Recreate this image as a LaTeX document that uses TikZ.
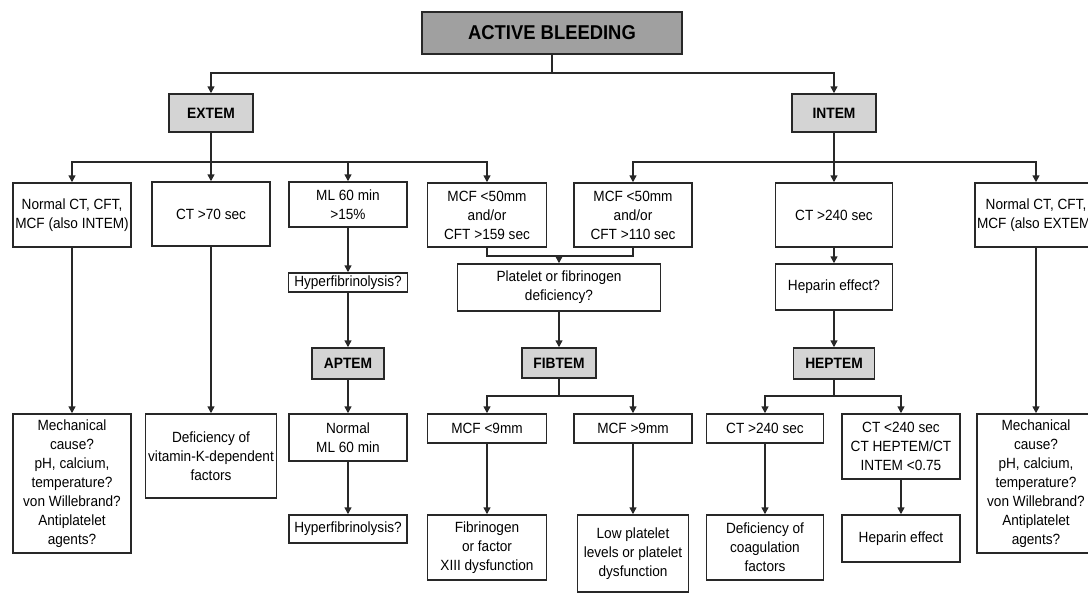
\documentclass[tikz,border=0pt]{standalone}
\usepackage{fontspec}
\setmainfont{Liberation Sans}[FakeStretch=0.92]
\definecolor{linegray}{RGB}{40, 40, 40}
\definecolor{topgray}{RGB}{160, 160, 160}
\definecolor{headgray}{RGB}{212, 212, 212}
\usetikzlibrary{arrows.meta}

\begin{document}
\begin{tikzpicture}[x=0.5pt, y=-0.5pt,
  box/.style={draw=linegray, line width=0.75pt, fill=white, align=center, inner sep=1pt, font=\fontsize{7.4}{9.5}\selectfont},
  headbox/.style={box, fill=headgray, font=\fontsize{7.5}{9}\selectfont\bfseries},
  arr/.style={draw=linegray, line width=0.75pt, -{Triangle[length=3.5pt,width=3.5pt]}},
  link/.style={draw=linegray, line width=0.75pt}]
  \useasboundingbox (0,0) rectangle (1088,594);

  % Top and the two tests
  \node[box, fill=topgray, minimum width=130pt, minimum height=21pt, font=\fontsize{10}{12}\selectfont\bfseries] (bleed) at (552,33) {ACTIVE BLEEDING};
  \node[headbox, minimum width=42pt, minimum height=19pt] (extem) at (211,113) {EXTEM};
  \node[headbox, minimum width=42pt, minimum height=19pt] (intem) at (834,113) {INTEM};

  % First row of results
  \node[box, minimum width=59pt, minimum height=32pt] (normExt) at (72,215) {Normal CT, CFT,\\MCF (also INTEM)};
  \node[box, minimum width=59pt, minimum height=32pt] (ctSeventy) at (211,214) {CT >70 sec};
  \node[box, minimum width=59pt, minimum height=22.5pt] (mlHigh) at (348,204.5) {ML 60 min\\>15\%};
  \node[box, minimum width=59.5pt, minimum height=32pt] (mcfExt) at (487,215) {MCF <50mm\\and/or\\CFT >159 sec};
  \node[box, minimum width=59pt, minimum height=32pt] (mcfInt) at (633,215) {MCF <50mm\\and/or\\CFT >110 sec};
  \node[box, minimum width=58.5pt, minimum height=32pt] (ctInt) at (834,215) {CT >240 sec};
  \node[box, minimum width=59pt, minimum height=32pt] (normInt) at (1036,215) {Normal CT, CFT,\\MCF (also EXTEM)};

  % Questions and follow-up tests
  \node[box, minimum width=59.5pt, minimum height=9.5pt] (hyperA) at (348,282.5) {Hyperfibrinolysis?};
  \node[box, minimum width=101.5pt, minimum height=23.5pt] (platQ) at (559,287.5) {Platelet or fibrinogen\\deficiency?};
  \node[box, minimum width=58.5pt, minimum height=23pt] (hepQ) at (834,287) {Heparin effect?};
  \node[headbox, minimum width=36pt, minimum height=15.5pt] (aptem) at (348,363.5) {APTEM};
  \node[headbox, minimum width=37pt, minimum height=15pt] (fibtem) at (559,363) {FIBTEM};
  \node[headbox, minimum width=40.5pt, minimum height=15.5pt] (heptem) at (834,363.5) {HEPTEM};

  % Lower row
  \node[box, minimum width=59pt, minimum height=69.5pt] (mechA) at (72,483.5) {Mechanical\\cause?\\pH, calcium,\\temperature?\\von Willebrand?\\Antiplatelet\\agents?};
  \node[box, minimum width=65.5pt, minimum height=42pt] (vitK) at (211,456) {Deficiency of\\vitamin-K-dependent\\factors};
  \node[box, minimum width=59pt, minimum height=23.5pt] (normML) at (348,437.5) {Normal\\ML 60 min};
  \node[box, minimum width=59pt, minimum height=14pt] (hyperB) at (348,529) {Hyperfibrinolysis?};
  \node[box, minimum width=59.5pt, minimum height=14.5pt] (mcfLow) at (487,428.5) {MCF <9mm};
  \node[box, minimum width=59pt, minimum height=14.5pt] (mcfHigh) at (633,428.5) {MCF >9mm};
  \node[box, minimum width=58.5pt, minimum height=14.5pt] (ctHep) at (765,428.5) {CT >240 sec};
  \node[box, minimum width=59pt, minimum height=32.5pt] (ctRatio) at (901,446.5) {CT <240 sec\\CT HEPTEM/CT\\INTEM <0.75};
  \node[box, minimum width=59pt, minimum height=69.5pt] (mechB) at (1036,483.5) {Mechanical\\cause?\\pH, calcium,\\temperature?\\von Willebrand?\\Antiplatelet\\agents?};
  \node[box, minimum width=59.5pt, minimum height=32.5pt] (fibrin) at (487,547.5) {Fibrinogen\\or factor\\XIII dysfunction};
  \node[box, minimum width=55.5pt, minimum height=38.5pt] (lowPlt) at (633,553.5) {Low platelet\\levels or platelet\\dysfunction};
  \node[box, minimum width=58.5pt, minimum height=32.5pt] (defCoag) at (765,547.5) {Deficiency of\\coagulation\\factors};
  \node[box, minimum width=59pt, minimum height=23.5pt] (hepEff) at (901,538.5) {Heparin effect};

  % Branch points
  \coordinate (s0) at (552,73);
  \coordinate (s1) at (211,162);
  \coordinate (s2) at (834,162);
  \coordinate (s3) at (559,256);
  \coordinate (s4) at (559,396);
  \coordinate (s5) at (834,396);

  \draw[arr] (bleed.south) -- (s0) -| (extem.north);
  \draw[arr] (s0) -| (intem.north);

  \draw[arr] (extem) -- (ctSeventy);
  \draw[arr] (s1) -| (normExt.north);
  \draw[arr] (s1) -| (mlHigh.north);
  \draw[arr] (s1) -| (mcfExt.north);
  \draw[arr] (intem) -- (ctInt);
  \draw[arr] (s2) -| (mcfInt.north);
  \draw[arr] (s2) -| (normInt.north);

  \draw[link] (mcfExt.south) |- (s3) -| (mcfInt.south);
  \draw[arr] (s3) -- (platQ.north);

  \draw[arr] (mlHigh) -- (hyperA);
  \draw[arr] (hyperA) -- (aptem);
  \draw[arr] (aptem) -- (normML);
  \draw[arr] (normML) -- (hyperB);
  \draw[arr] (platQ) -- (fibtem);
  \draw[arr] (ctInt) -- (hepQ);
  \draw[arr] (hepQ) -- (heptem);

  \draw[link] (fibtem.south) -- (s4);
  \draw[arr] (s4) -| (mcfLow.north);
  \draw[arr] (s4) -| (mcfHigh.north);
  \draw[link] (heptem.south) -- (s5);
  \draw[arr] (s5) -| (ctHep.north);
  \draw[arr] (s5) -| (ctRatio.north);

  \draw[arr] (normExt) -- (mechA);
  \draw[arr] (ctSeventy) -- (vitK);
  \draw[arr] (normInt) -- (mechB);
  \draw[arr] (mcfLow) -- (fibrin);
  \draw[arr] (mcfHigh) -- (lowPlt);
  \draw[arr] (ctHep) -- (defCoag);
  \draw[arr] (ctRatio) -- (hepEff);
\end{tikzpicture}
\end{document}
